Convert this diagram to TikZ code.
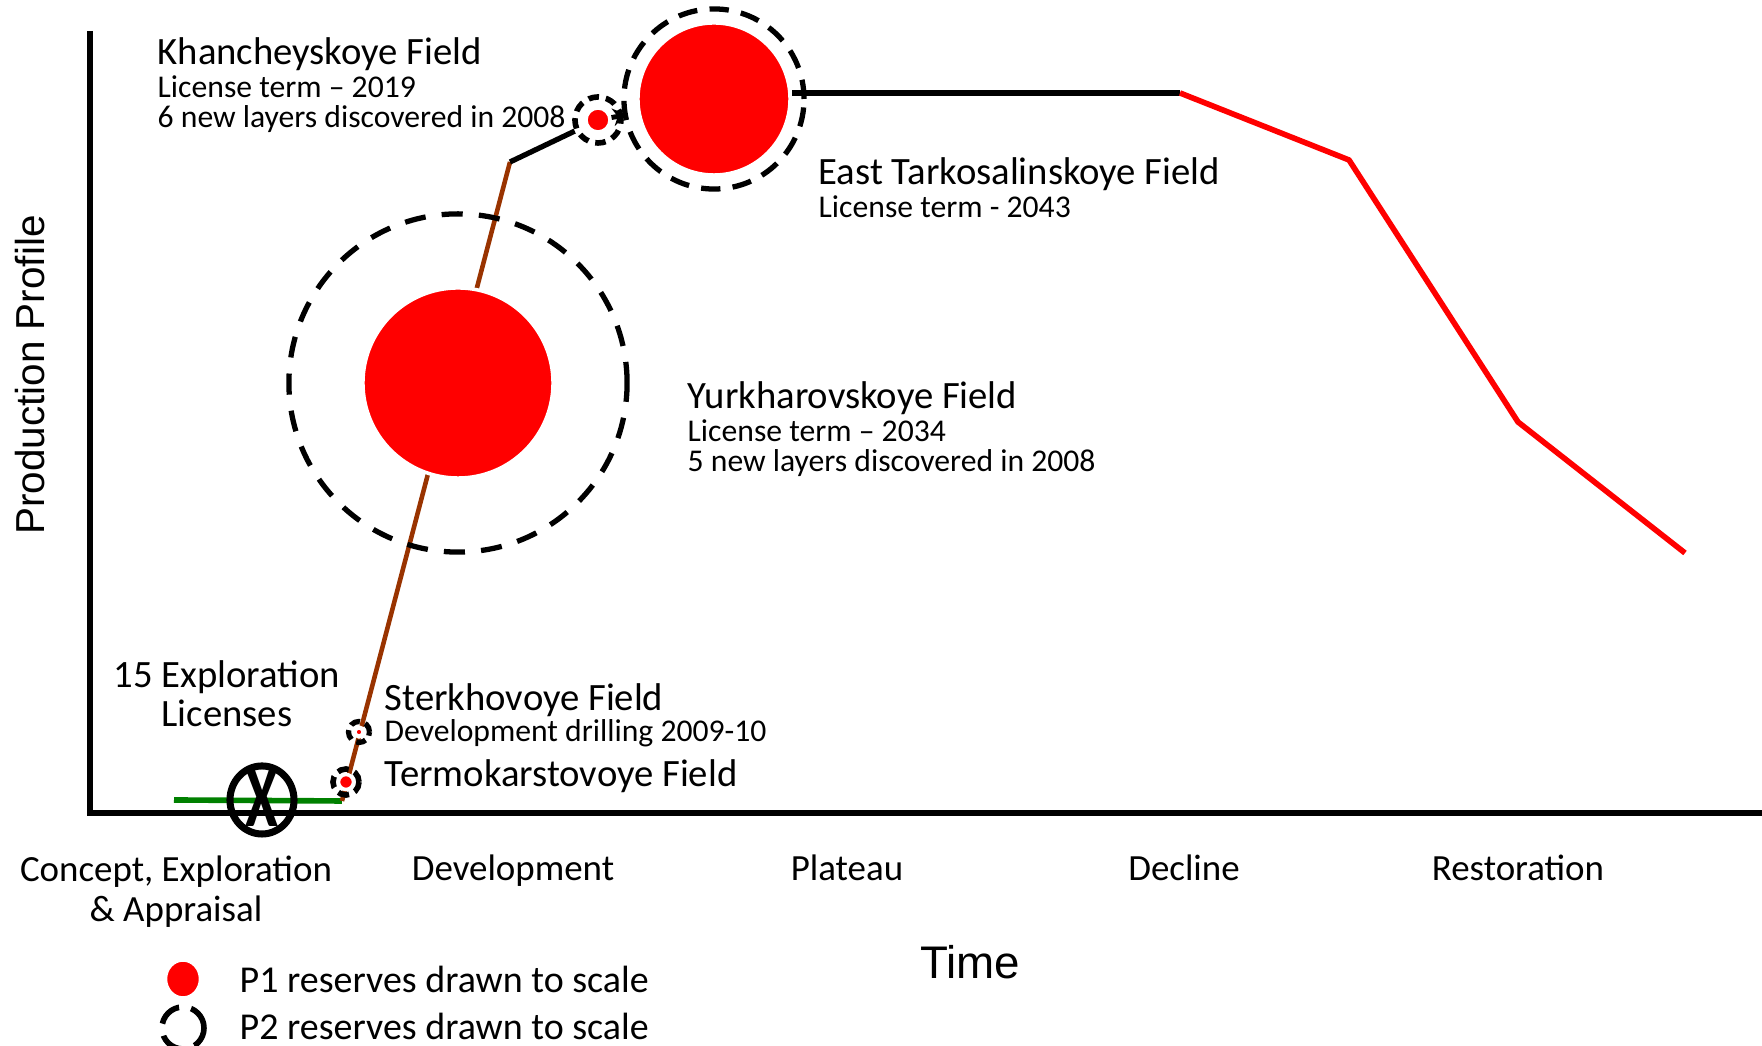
\documentclass[tikz,border=0pt]{standalone}
\usepackage{fontspec}
\setmainfont{Carlito}
\newfontfamily\axisfont{Liberation Sans}
\usetikzlibrary{arrows.meta,shapes.geometric}
\definecolor{reserve}{RGB}{255,0,0}
\definecolor{wellbrown}{RGB}{153,51,0}
\definecolor{explgreen}{RGB}{0,128,0}
\tikzset{
  pone/.style={circle,fill=reserve,draw=white,line width=1pt,inner sep=0pt},
  ptwo/.style={circle,draw=black,line width=1.5pt,dash pattern=on 6pt off 4.5pt,inner sep=0pt},
  ftitle/.style={anchor=west,inner sep=0pt,font=\fontsize{11}{11}\selectfont},
  fsub/.style={anchor=west,inner sep=0pt,font=\fontsize{9}{9}\selectfont},
  stage/.style={align=center,inner sep=0pt,font=\fontsize{10.5}{11.4}\selectfont},
  legtext/.style={anchor=west,inner sep=0pt,font=\fontsize{10.8}{10.8}\selectfont},
}

\begin{document}
\begin{tikzpicture}[x=0.01cm,y=0.01cm]
    \useasboundingbox (0,0) rectangle (1762,1046);
    % axes
    \coordinate (ytop) at (90,1015);
    \coordinate (orig) at (90,233);
    \coordinate (xend) at (1762,233);
    \draw[line width=1.8pt] (ytop) -- (orig) -- (xend);
    \node[font=\axisfont\fontsize{11.5}{11.5}\selectfont,rotate=90] (prodlbl) at (30,671) {Production Profile};
    \node[font=\axisfont\fontsize{13}{13}\selectfont] (timelbl) at (970,84) {Time};
    % profile
    \coordinate (explA) at (174,246);
    \coordinate (devA) at (342,245);
    \coordinate (devB) at (510,884);
    \coordinate (platA) at (792,953);
    \coordinate (decA) at (1180,953);
    \coordinate (decB) at (1349,886);
    \coordinate (decC) at (1518,624);
    \coordinate (decD) at (1685,493);
    \draw[explgreen,line width=1.6pt] (explA) -- (devA);
    \draw[wellbrown,line width=1.3pt] (devA) -- (devB);
    \draw[line width=1.7pt] (platA) -- (decA);
    \draw[reserve,line width=1.6pt,line join=round] (decA) -- (decB) -- (decC) -- (decD);
    % exploration licenses
    \node[ellipse,draw,line width=2pt,minimum width=0.64cm,minimum height=0.68cm,inner sep=0pt] (xring) at (262,246) {};
    \node[font=\bfseries\fontsize{25}{25}\selectfont,inner sep=0pt] (xlet) at (262,248) {\scalebox{0.68}[1]{X}};
    % fields (P1 red, P2 dashed)
    \node[ptwo,minimum size=3.38cm,dash pattern=on 6pt off 4.6pt] (yurkP2) at (458,663) {};
    \node[pone,minimum size=1.9cm] (yurkP1) at (458,663) {};
    \node[ptwo,minimum size=1.8cm,dash pattern=on 5.5pt off 3.5pt] (etarP2) at (714,947) {};
    \node[pone,minimum size=1.52cm] (etarP1) at (714,947) {};
    \node[ptwo,minimum size=0.46cm,dash pattern=on 3pt off 2pt,line width=1.6pt] (khanP2) at (598,926) {};
    \node[pone,minimum size=0.24cm] (khanP1) at (598,926) {};
    \node[ptwo,minimum size=0.21cm,dash pattern=on 2.8pt off 1.6pt,line width=1.5pt] (sterP2) at (359,314) {};
    \node[pone,minimum size=0.09cm,line width=1.2pt] (sterP1) at (359,314) {};
    \node[ptwo,minimum size=0.26cm,dash pattern=on 3.2pt off 1.8pt,line width=1.6pt] (termP2) at (346,264) {};
    \node[pone,minimum size=0.15cm,line width=1pt] (termP1) at (346,264) {};
    \draw[line width=1.5pt] (devB) -- (khanP2);
    \draw[line width=1.4pt,-{Stealth[length=4pt,width=5pt]},shorten >=3pt] (khanP1) -- (etarP1);
    % field labels
    \node[ftitle] (khanT) at (157,992) {Khancheyskoye Field};
    \node[fsub] (khanS1) at (157,959) {License term -- 2019};
    \node[fsub] (khanS2) at (157,927) {6 new layers discovered in 2008};
    \node[ftitle] (etarT) at (818,872) {East Tarkosalinskoye Field};
    \node[fsub] (etarS) at (818,839) {License term - 2043};
    \node[ftitle] (yurkT) at (687,648) {Yurkharovskoye Field};
    \node[fsub] (yurkS1) at (687,615) {License term -- 2034};
    \node[fsub] (yurkS2) at (687,583) {5 new layers discovered in 2008};
    \node[ftitle,anchor=center,align=center] (explT) at (227,352) {15 Exploration\\Licenses};
    \node[ftitle] (sterT) at (384,346) {Sterkhovoye Field};
    \node[fsub] (sterS) at (384,313) {Development drilling 2009-10};
    \node[ftitle] (termT) at (384,270) {Termokarstovoye Field};
    % stages
    \node[stage] (stCEA) at (176,154) {Concept, Exploration\\\& Appraisal};
    \node[stage,anchor=base] (stDev) at (513,165) {Development};
    \node[stage,anchor=base] (stPlat) at (847,165) {Plateau};
    \node[stage,anchor=base] (stDec) at (1184,165) {Decline};
    \node[stage,anchor=base] (stRest) at (1518,165) {Restoration};
    % legend
    \node[pone,ellipse,minimum width=0.35cm,minimum height=0.38cm] (legP1) at (183,67) {};
    \node[legtext] (legP1T) at (239,67) {P1 reserves drawn to scale};
    \node[ptwo,minimum size=0.42cm,dash pattern=on 7pt off 3.5pt,line width=1.6pt] (legP2) at (183,18) {};
    \node[legtext] (legP2T) at (239,20) {P2 reserves drawn to scale};
\end{tikzpicture}
\end{document}
